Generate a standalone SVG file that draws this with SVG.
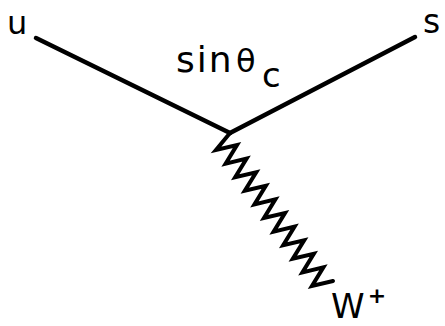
<svg xmlns="http://www.w3.org/2000/svg" width="445" height="326" viewBox="0 0 445 326">
<style>
.fermion{fill:none;stroke:#000;stroke-width:4.5;stroke-linecap:round}
.boson{fill:none;stroke:#000;stroke-width:4;stroke-linejoin:miter;stroke-linecap:round}
.lbl{font-family:"DejaVu Sans",sans-serif;fill:#000}
</style>
<rect width="445" height="326" fill="#fff"/>
<g id="connectors">
<line class="fermion" x1="36" y1="38" x2="230" y2="133"/>
<line class="fermion" x1="230" y1="133" x2="415" y2="37"/>
<polyline class="boson" points="230,133 216,150 237,145 225.6,163.6 246.6,158.6 235.2,177.2 256.2,172.2 244.8,190.8 265.8,185.8 254.4,204.4 275.4,199.4 264,218 285,213 273.6,231.6 294.6,226.6 283.2,245.2 304.2,240.2 292.8,258.8 313.8,253.8 302.4,272.4 323.4,267.4 312,286 333,281"/>
</g>
<g id="u"><text class="lbl" x="7" y="34" font-size="32">u</text></g>
<g id="s"><text class="lbl" x="423" y="33" font-size="33">s</text></g>
<g id="coupling"><text class="lbl" x="176" y="72" font-size="36" letter-spacing="2">sin<tspan x="236" font-size="32" letter-spacing="0">θ</tspan><tspan x="262" dy="15" font-size="34" letter-spacing="0">c</tspan></text></g>
<g id="W"><text class="lbl" x="331" y="318" font-size="34">W<tspan dx="3" dy="-15" font-size="22" font-weight="bold">+</tspan></text></g>
</svg>
